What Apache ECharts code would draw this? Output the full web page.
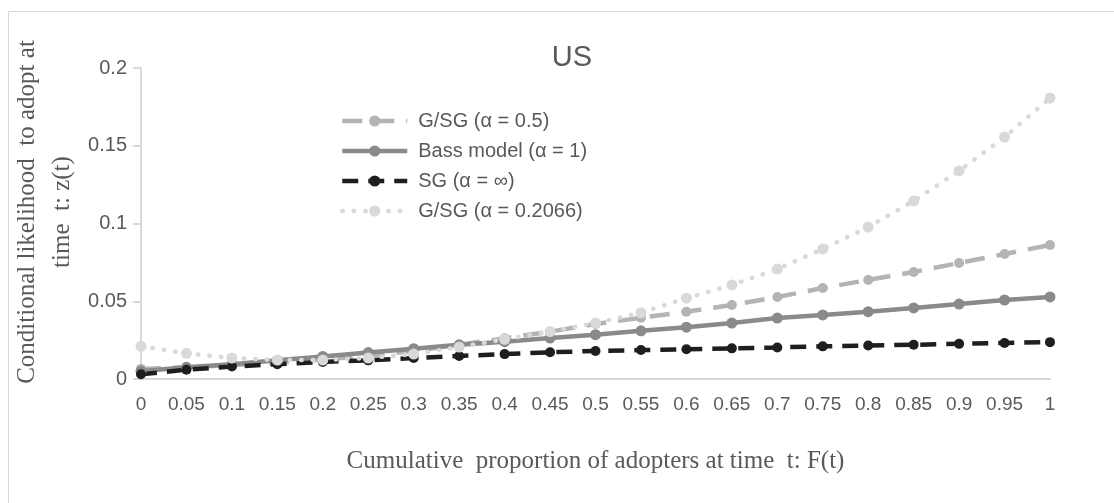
<!DOCTYPE html>
<html>
<head>
<meta charset="utf-8">
<script src="https://cdn.jsdelivr.net/npm/echarts@6/dist/echarts.min.js"></script>
<style>html,body{margin:0;padding:0;background:#fff}#c{width:1114px;height:503px}</style>
</head>
<body>
<div id="c"></div>
<script>
const categories = ['0','0.05','0.1','0.15','0.2','0.25','0.3','0.35','0.4','0.45','0.5','0.55','0.6','0.65','0.7','0.75','0.8','0.85','0.9','0.95','1'];
const seriesNames = ['G/SG (α = 0.5)', 'Bass model (α = 1)', 'SG (α = ∞)', 'G/SG (α = 0.2066)'];
const gsg05 = [0.0065,0.0075,0.009,0.0105,0.0125,0.015,0.018,0.022,0.0262,0.0304,0.0354,0.0394,0.0433,0.0476,0.0527,0.0585,0.0637,0.0688,0.0746,0.0804,0.0862];
const bass = [0.005,0.0075,0.0095,0.012,0.0145,0.017,0.0195,0.022,0.024,0.0263,0.0285,0.031,0.0333,0.036,0.0392,0.0412,0.0433,0.0457,0.0482,0.0508,0.0528];
const sg = [0.003,0.006,0.008,0.0095,0.011,0.012,0.0135,0.0148,0.016,0.0172,0.018,0.0186,0.0191,0.0197,0.0203,0.021,0.0215,0.022,0.0226,0.0232,0.0237];
const gsg2066 = [0.021,0.0165,0.0135,0.0122,0.0122,0.0135,0.016,0.0205,0.0255,0.0305,0.036,0.0426,0.052,0.0605,0.0707,0.0836,0.0977,0.1145,0.1338,0.1556,0.1807];
const yTicks = {min: 0, max: 0.2, interval: 0.05};

const chart = echarts.init(document.getElementById('c'), null, {renderer: 'canvas'});
const sansFont = '"Liberation Sans", "Open Sans", sans-serif';
const serifFont = '"Liberation Serif", "DejaVu Serif", serif';
const txt = '#595959';

function mk(name, data, color, width, dash, size, cap) {
  return {
    name: name, type: 'line', data: data,
    symbol: 'circle', symbolSize: size,
    itemStyle: {color: color},
    lineStyle: {color: color, width: width, type: dash, cap: cap || 'butt'},
    emphasis: {disabled: true}
  };
}

chart.setOption({
  animation: false,
  backgroundColor: '#fff',
  title: {
    text: 'US', left: 567, top: 38, textAlign: 'center',
    textStyle: {fontFamily: sansFont, fontSize: 29, fontWeight: 'normal', color: txt}
  },
  graphic: [
    {type: 'rect', shape: {x: 8.5, y: 11.5, width: 1200, height: 600}, style: {fill: 'none', stroke: '#d9d9d9', lineWidth: 1}},
    {type: 'text', x: 45, y: 212, rotation: Math.PI / 2,
     style: {text: 'Conditional likelihood  to adopt at\ntime  t: z(t)', font: '25px ' + serifFont, fill: txt, align: 'center', verticalAlign: 'middle', lineHeight: 35}}
  ],
  legend: {
    orient: 'vertical', left: 335, top: 106,
    itemWidth: 65, itemHeight: 14, itemGap: 10,
    data: seriesNames,
    lineStyle: {width: 4.5},
    textStyle: {fontFamily: sansFont, fontSize: 20, color: txt, padding: [0, 0, 0, 6]}
  },
  grid: {left: 141, right: 64, top: 68, bottom: 124},
  xAxis: {
    type: 'category', data: categories, boundaryGap: false,
    axisLine: {lineStyle: {color: '#d9d9d9', width: 2}},
    axisTick: {show: false},
    axisLabel: {interval: 0, color: txt, fontFamily: sansFont, fontSize: 19, margin: 16},
    name: 'Cumulative  proportion of adopters at time  t: F(t)',
    nameLocation: 'middle', nameGap: 70,
    nameTextStyle: {fontFamily: serifFont, fontSize: 25, color: txt}
  },
  yAxis: {
    type: 'value', min: yTicks.min, max: yTicks.max, interval: yTicks.interval,
    axisLine: {show: true, lineStyle: {color: '#d9d9d9', width: 2}},
    axisTick: {show: true, length: 8, lineStyle: {color: '#d9d9d9', width: 2}},
    splitLine: {show: false},
    axisLabel: {color: txt, fontFamily: sansFont, fontSize: 20, margin: 14}
  },
  series: [
    mk(seriesNames[0], gsg05, '#b4b4b4', 4.5, [20, 12], 10),
    mk(seriesNames[1], bass, '#8a8a8a', 4.5, 'solid', 11),
    mk(seriesNames[2], sg, '#1e1e1e', 4.5, [16, 10], 10),
    mk(seriesNames[3], gsg2066, '#d9d9d9', 4.5, [0.5, 11], 11, 'round')
  ]
});
</script>
</body>
</html>
